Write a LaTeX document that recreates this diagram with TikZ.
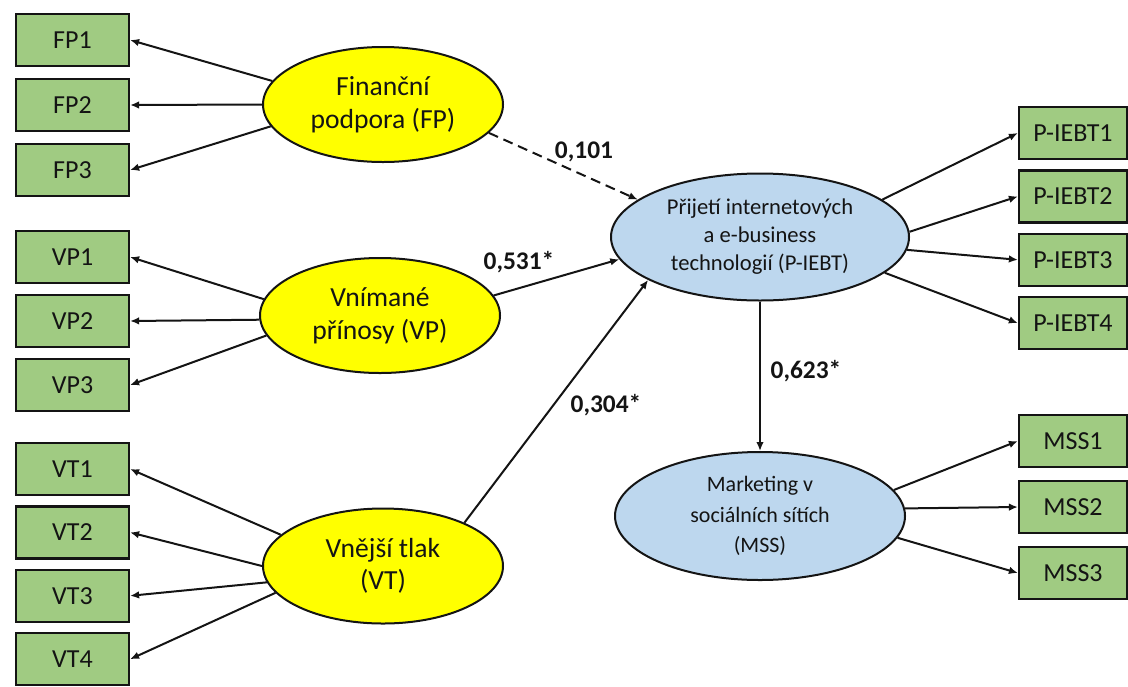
\documentclass[tikz,border=0pt]{standalone}
\usepackage{fontspec}
\setmainfont{Carlito}
\usepackage{tikz}
\usetikzlibrary{positioning,arrows.meta,shapes.geometric}
\definecolor{itemgreen}{HTML}{A0CB82}
\definecolor{latyellow}{HTML}{FFFF00}
\definecolor{latblue}{HTML}{BDD7EE}
\definecolor{inkdark}{HTML}{141414}

\begin{document}
\begin{tikzpicture}[x=0.5pt, y=-0.5pt, node distance=32pt,
        item/.style={draw=inkdark, line width=1.1pt, fill=itemgreen, rectangle, minimum width=56.5pt, minimum height=26pt, inner sep=0pt, text=inkdark, font=\fontsize{13}{15}\selectfont},
        ritem/.style={item, minimum width=54pt},
        latent/.style={draw=inkdark, line width=1pt, fill=latyellow, ellipse, minimum width=120pt, minimum height=57.5pt, inner sep=0pt, align=center, text=inkdark, font=\fontsize{13.8}{16.3}\selectfont},
        endo/.style={latent, fill=latblue, font=\fontsize{11.3}{14}\selectfont},
        arr/.style={-{Latex[length=4.5pt,width=3.8pt]}, line width=1pt, draw=inkdark},
        coef/.style={font=\bfseries\fontsize{12.7}{14}\selectfont, text=inkdark, inner sep=1pt}]
        \useasboundingbox (0,0) rectangle (1128,686);

        % indicators on the left
        \node[item] (fp1) at (72.5,40) {FP1};
        \node[item, below of=fp1, node distance=32.5pt] (fp2) {FP2};
        \node[item, below of=fp2, node distance=32.5pt] (fp3) {FP3};

        \node[item] (vp1) at (72.5,257) {VP1};
        \node[item, below of=vp1] (vp2) {VP2};
        \node[item, below of=vp2] (vp3) {VP3};

        \node[item] (vt1) at (72.5,469) {VT1};
        \node[item, below of=vt1, node distance=31.7pt] (vt2) {VT2};
        \node[item, below of=vt2, node distance=31.7pt] (vt3) {VT3};
        \node[item, below of=vt3, node distance=31.7pt] (vt4) {VT4};

        % latent variables
        \node[latent] (fp) at (383,104.5) {Finanční\\podpora (FP)};
        \node[latent] (vp) at (380,315.5) {Vnímané\\přínosy (VP)};
        \node[latent] (vt) at (383,566) {Vnější tlak\\(VT)};
        \node[endo, minimum width=149pt, minimum height=63.5pt] (piebt) at (760,237) {Přijetí internetových\\a e-business\\technologií (P-IEBT)};
        \node[endo, minimum width=145pt, minimum height=64pt, font=\fontsize{11}{15.3}\selectfont] (mss) at (760,516) {Marketing v\\sociálních sítích\\(MSS)};

        % indicators on the right
        \node[ritem] (pi1) at (1073,133) {P-IEBT1};
        \node[ritem, below of=pi1, node distance=31.7pt] (pi2) {P-IEBT2};
        \node[ritem, below of=pi2, node distance=31.7pt] (pi3) {P-IEBT3};
        \node[ritem, below of=pi3, node distance=31.7pt] (pi4) {P-IEBT4};

        \node[ritem] (ms1) at (1073,441) {MSS1};
        \node[ritem, below of=ms1, node distance=33pt] (ms2) {MSS2};
        \node[ritem, below of=ms2, node distance=33pt] (ms3) {MSS3};

        % path coefficients
        \node[coef] (c1) at (584,152) {0,101};
        \node[coef] (c2) at (519,262) {0,531*};
        \node[coef] (c3) at (606,405) {0,304*};
        \node[coef] (c4) at (806,371) {0,623*};

        \draw[arr] (fp.168) -- (fp1.east);
        \draw[arr] (fp.180) -- (fp2.east);
        \draw[arr] (fp.191) -- (fp3.east);

        \draw[arr] (vp.172) -- (vp1.east);
        \draw[arr] (vp.182) -- (vp2.east);
        \draw[arr] (vp.190) -- (vp3.east);

        \draw[arr] (vt.163) -- (vt1.east);
        \draw[arr] (vt.180) -- (vt2.east);
        \draw[arr] (vt.188) -- (vt3.east);
        \draw[arr] (vt.194) -- (vt4.east);

        \draw[arr, dash pattern=on 5pt off 3pt] (fp.-15) -- (piebt.163);
        \draw[arr] (vp.10) -- (piebt.189);
        \draw[arr] (vt.28) -- (piebt.201);
        \draw[arr] (piebt.south) -- (mss.north);

        \draw[arr] (piebt.17) -- (pi1.west);
        \draw[arr] (piebt.2) -- (pi2.west);
        \draw[arr] (piebt.-5) -- (pi3.west);
        \draw[arr] (piebt.-16) -- (pi4.west);

        \draw[arr] (mss.11) -- (ms1.west);
        \draw[arr] (mss.3) -- (ms2.west);
        \draw[arr] (mss.-9) -- (ms3.west);
    \end{tikzpicture}
\end{document}
